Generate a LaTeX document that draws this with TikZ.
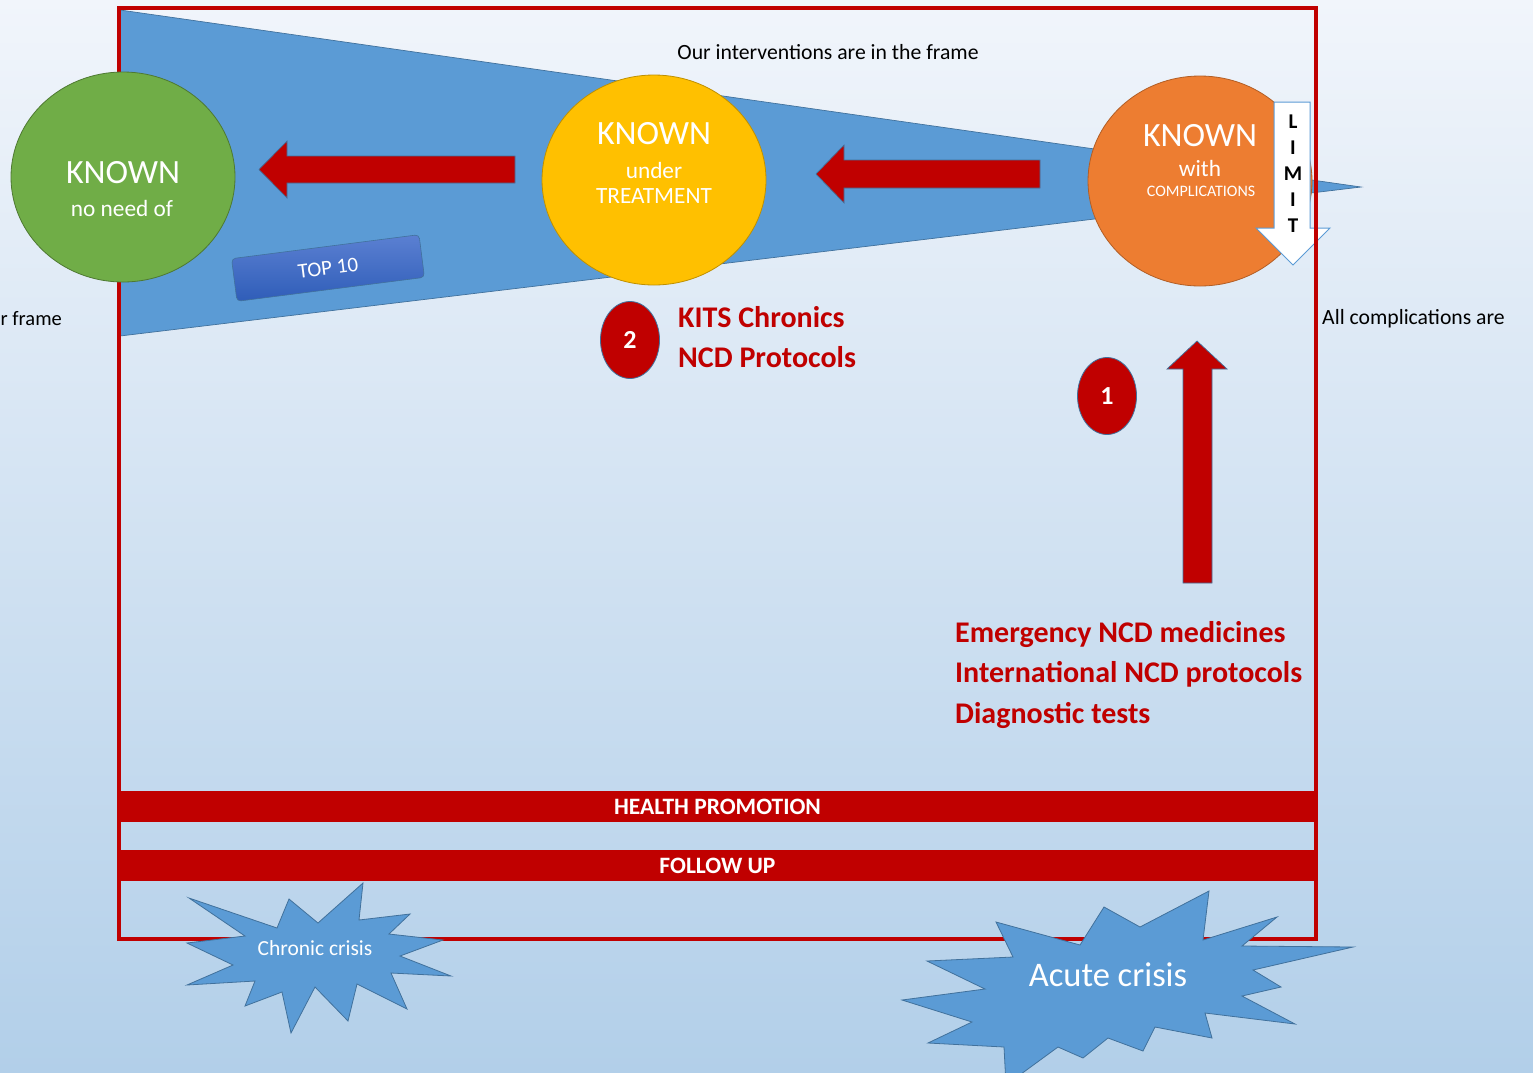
\documentclass[tikz,border=0pt]{standalone}
\usepackage{fontspec}
\setmainfont{Carlito}
\usepackage{tikz}
\usetikzlibrary{shapes}

\definecolor{ncdred}{HTML}{C00000}
\definecolor{funnel}{HTML}{5B9BD5}
\definecolor{funnelline}{HTML}{41719C}
\definecolor{bgtop}{HTML}{F1F5FB}
\definecolor{bgbot}{HTML}{B2CFE9}
\definecolor{knowngreen}{HTML}{70AD47}
\definecolor{knownyellow}{HTML}{FFC000}
\definecolor{knownorange}{HTML}{ED7D31}
\definecolor{topblue}{HTML}{5B80D2}
\definecolor{topdark}{HTML}{2F5DB8}

\tikzset{
  known/.style={ellipse,minimum width=224pt,minimum height=210pt,inner sep=0pt,line width=0.8pt},
  bigword/.style={text=white,font=\fontsize{34}{36}\selectfont},
  smallword/.style={text=white,font=\fontsize{23.3}{25}\selectfont},
  blockarrow/.style={fill=ncdred,draw=funnelline,line width=0.7pt},
  numbered/.style={ellipse,fill=ncdred,draw=funnelline,line width=0.8pt,minimum width=59pt,minimum height=77pt,inner sep=0pt,text=white,font=\bfseries\fontsize{26}{28}\selectfont},
  redtext/.style={text=ncdred,align=left,anchor=west,inner sep=0pt,font=\bfseries\fontsize{30}{40.5}\selectfont},
  band/.style={fill=ncdred,minimum width=1198pt,minimum height=31pt,inner sep=0pt,text=white,font=\bfseries\fontsize{23.5}{25}\selectfont},
  crisis/.style={fill=funnel,draw=funnelline,line width=0.8pt,line join=miter},
  note/.style={text=black,font=\fontsize{21.7}{23}\selectfont,inner sep=0pt},
  limitchar/.style={text=black,font=\bfseries\fontsize{21}{22}\selectfont,inner sep=0pt}
}

\begin{document}
\begin{tikzpicture}[x=1pt,y=-1pt]
\useasboundingbox (0,0) rectangle (1533,1072);
\clip (0,0) rectangle (1533,1072);
\shade[top color=bgtop,bottom color=bgbot] (0,0) rectangle (1533,1072);

% funnel
\filldraw[fill=funnel,draw=funnelline,line width=0.7pt] (120,10) -- (1361,187) -- (120,336) -- cycle;

\node[known,fill=knownorange,draw=knownorange!75!black] (comp) at (1200,181) {};
\node[bigword] (compA) at (1200,136) {KNOWN};
\node[smallword] (compB) at (1200,168) {with};
\node[text=white,font=\fontsize{16}{17}\selectfont] (compC) at (1201,191) {COMPLICATIONS};

% limit arrow
\filldraw[fill=white,draw=funnel,line width=1pt] (1274,102) -- (1310,102) -- (1310,228) -- (1330,228) -- (1293,265) -- (1256,228) -- (1274,228) -- cycle;
\foreach \l [count=\i] in {L,I,M,I,T}
  \node[limitchar] (lim\i) at (1293,96+26*\i) {\l};

% frame
\draw[ncdred,line width=4pt] (119,8) rectangle (1316,939);
\node[band] (health) at (717.5,806.5) {HEALTH PROMOTION};
\node[band] (follow) at (717.5,865.5) {FOLLOW UP};

\node[known,fill=knowngreen,draw=knowngreen!70!black] (none) at (123,177) {};
\node[bigword] (noneA) at (123,173) {KNOWN};
\node[smallword] (noneB) at (122,208) {no need of};

\node[known,fill=knownyellow,draw=knownyellow!75!black] (treat) at (654,180) {};
\node[bigword] (treatA) at (654,134) {KNOWN};
\node[smallword] (treatB) at (654,170) {under};
\node[smallword] (treatC) at (654,196) {TREATMENT};

% red arrows
\draw[blockarrow] (515,156) -- (287,156) -- (287,141) -- (259,169.5) -- (287,198) -- (287,183) -- (515,183) -- cycle;
\draw[blockarrow] (1040,160) -- (844,160) -- (844,145) -- (816,174) -- (844,203) -- (844,188) -- (1040,188) -- cycle;
\draw[blockarrow] (1183,583) -- (1212,583) -- (1212,369) -- (1227,369) -- (1197,341) -- (1167,369) -- (1183,369) -- cycle;

\node[rounded corners=4pt,rotate=7.3,top color=topblue,bottom color=topdark,draw=funnelline,line width=0.6pt,minimum width=189pt,minimum height=43pt,text=white,font=\fontsize{21}{22}\selectfont] (top) at (328,268) {TOP 10};

\node[note] (frametxt) at (828,52) {Our interventions are in the frame};
\node[note,anchor=west,font=\fontsize{20.5}{22}\selectfont] (outer) at (0.5,319) {r frame};
\node[note,anchor=west] (allcomp) at (1322,319) {All complications are};

\node[numbered] (two) at (630,340) {2};
\node[redtext] (kits) at (678,337) {KITS Chronics\\NCD Protocols};
\node[numbered] (one) at (1107,396) {1};
\node[redtext] (emerg) at (955,675) {Emergency NCD medicines\\International NCD protocols\\Diagnostic tests};

% crises
\draw[crisis] (189,898) -- (277,928) -- (289,899) -- (318,923) -- (363,883) -- (359,920) -- (410,914) -- (389,934) -- (443,940) -- (400,956) -- (451,976) -- (391,973) -- (407,1009) -- (357,984) -- (348,1021) -- (315,987) -- (291,1033) -- (282,992) -- (245,1006) -- (255,981) -- (187,985) -- (233,965) -- (187,943) -- (245,936) -- cycle;
\node[text=white,font=\fontsize{21.5}{23}\selectfont] (chronic) at (315,948) {Chronic crisis};

\draw[crisis] (996,922) -- (1080,945) -- (1104,907) -- (1140,927) -- (1209,891) -- (1203,940) -- (1277,917) -- (1242,946) -- (1353,947) -- (1253,970) -- (1281,987) -- (1242,996) -- (1295,1024) -- (1205,1013) -- (1212,1038) -- (1155,1027) -- (1143,1051) -- (1108,1038) -- (1083,1058) -- (1058,1047) -- (1006,1085) -- (1004,1047) -- (928,1043) -- (972,1022) -- (902,1000) -- (985,989) -- (927,961) -- (1013,957) -- cycle;
\node[text=white,font=\fontsize{34.5}{36}\selectfont] (acute) at (1108,975) {Acute crisis};
\end{tikzpicture}
\end{document}
